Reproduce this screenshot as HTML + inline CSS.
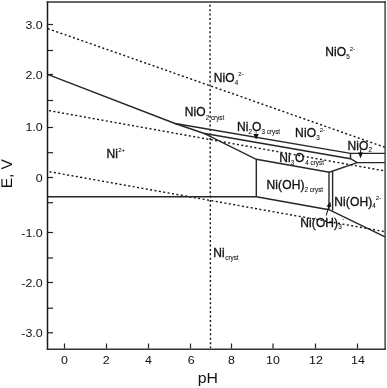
<!DOCTYPE html>
<html><head><meta charset="utf-8">
<style>
html,body{margin:0;padding:0;background:#fff;}
body{width:387px;height:388px;overflow:hidden;}
svg{display:block;filter:grayscale(1);}
text{font-family:"Liberation Sans",sans-serif;fill:#111;}
.lb{font-size:12px;stroke:#111;stroke-width:0.33px;letter-spacing:0.12px;}
.sm{font-size:6.3px;stroke-width:0.08px;letter-spacing:0;}
.sp{font-size:6px;}
.tk{font-size:11.6px;}
.ax{font-size:14.8px;}
</style></head>
<body>
<svg width="387" height="388" viewBox="0 0 387 388">
<!-- dotted lines -->
<g fill="none" stroke="#111" stroke-width="1.4" stroke-dasharray="2 2.44">
<line x1="47.86" y1="28.65" x2="385.00" y2="147.32"/>
<line x1="49.00" y1="110.62" x2="385.00" y2="170.97"/>
<line x1="49.60" y1="171.72" x2="385.00" y2="231.68"/>
<line x1="210.0" y1="4.7" x2="210.5" y2="348"/>
</g>
<!-- solid boundaries -->
<g fill="none" stroke="#262626" stroke-width="1.4" stroke-linejoin="miter">
<polyline points="47.5,74.3 175,123.5 350.5,153.4 385,153.4"/>
<polyline points="175,123.5 203.5,133.2 350.5,158.7 357.2,162.6 385,162.6"/>
<line x1="350.5" y1="153.4" x2="350.5" y2="158.7"/>
<polyline points="203.5,133.2 256.3,159.3 329.3,172.2 357.2,162.6"/>
<line x1="256.3" y1="159.3" x2="256.3" y2="196.8"/>
<polyline points="47.5,196.8 256.3,196.8 329,209.7 385,236.9"/>
<line x1="332.6" y1="171" x2="332.6" y2="210.5"/>
</g>
<line x1="329" y1="172.2" x2="329" y2="209.5" stroke="#1a1a1a" stroke-width="1.3"/>
<!-- arrows -->
<g fill="#111" stroke="#111">
<line x1="256.1" y1="131.2" x2="256.1" y2="135" stroke-width="0.6"/>
<polygon points="253.4,134.1 258.8,134.1 256.1,139.4" stroke="none"/>
<line x1="360.6" y1="149.5" x2="360.6" y2="154" stroke-width="1"/>
<polygon points="358.1,152.4 363,152.4 360.5,158.2" stroke="none"/>
<line x1="326.3" y1="215.5" x2="329.1" y2="205" stroke-width="1"/>
<polygon points="330.3,201.8 326.5,206.4 331.1,206.9" stroke="none"/>
</g>
<!-- frame -->
<g fill="none" stroke-linecap="square">
<line x1="47.5" y1="1.9" x2="47.5" y2="349.2" stroke="#1a1a1a" stroke-width="1.5"/>
<line x1="385.1" y1="1.9" x2="385.1" y2="349.2" stroke="#3a3a3a" stroke-width="1.4"/>
<line x1="47.5" y1="1.9" x2="385.1" y2="1.9" stroke="#333" stroke-width="1.5"/>
<line x1="47.5" y1="349.2" x2="385.1" y2="349.2" stroke="#333" stroke-width="1.5"/>
</g>
<!-- ticks -->
<g stroke="#222" stroke-width="1.2">
<line x1="48" y1="24.5" x2="53" y2="24.5"/>
<line x1="48" y1="50.5" x2="53" y2="50.5"/>
<line x1="48" y1="74.5" x2="53" y2="74.5"/>
<line x1="48" y1="100.5" x2="53" y2="100.5"/>
<line x1="48" y1="127.5" x2="53" y2="127.5"/>
<line x1="48" y1="152.7" x2="53" y2="152.7"/>
<line x1="48" y1="177.5" x2="53" y2="177.5"/>
<line x1="48" y1="202.7" x2="53" y2="202.7"/>
<line x1="48" y1="232.5" x2="53" y2="232.5"/>
<line x1="48" y1="258" x2="53" y2="258"/>
<line x1="48" y1="282.5" x2="53" y2="282.5"/>
<line x1="48" y1="308.2" x2="53" y2="308.2"/>
<line x1="48" y1="332.8" x2="53" y2="332.8"/>
<line x1="64.5" y1="343.5" x2="64.5" y2="348.5"/>
<line x1="106.5" y1="343.5" x2="106.5" y2="348.5"/>
<line x1="148.5" y1="343.5" x2="148.5" y2="348.5"/>
<line x1="190.5" y1="343.5" x2="190.5" y2="348.5"/>
<line x1="231.5" y1="343.5" x2="231.5" y2="348.5"/>
<line x1="273" y1="343.5" x2="273" y2="348.5"/>
<line x1="315.5" y1="343.5" x2="315.5" y2="348.5"/>
<line x1="357.5" y1="343.5" x2="357.5" y2="348.5"/>
</g>
<!-- tick labels -->
<text class="tk" text-anchor="end" transform="translate(42.7,28.8) scale(1.07,1)">3.0</text>
<text class="tk" text-anchor="end" transform="translate(42.7,79.1) scale(1.07,1)">2.0</text>
<text class="tk" text-anchor="end" transform="translate(42.7,131.4) scale(1.07,1)">1.0</text>
<text class="tk" text-anchor="end" transform="translate(42.7,182.1) scale(1.07,1)">0</text>
<text class="tk" text-anchor="end" transform="translate(42.7,237.3) scale(1.07,1)">-1.0</text>
<text class="tk" text-anchor="end" transform="translate(42.7,286.9) scale(1.07,1)">-2.0</text>
<text class="tk" text-anchor="end" transform="translate(42.7,337.1) scale(1.07,1)">-3.0</text>
<text class="tk" text-anchor="middle" transform="translate(64.5,363.6) scale(1.07,1)">0</text>
<text class="tk" text-anchor="middle" transform="translate(106.2,363.6) scale(1.07,1)">2</text>
<text class="tk" text-anchor="middle" transform="translate(148.5,363.6) scale(1.07,1)">4</text>
<text class="tk" text-anchor="middle" transform="translate(191.3,363.6) scale(1.07,1)">6</text>
<text class="tk" text-anchor="middle" transform="translate(231.5,363.6) scale(1.07,1)">8</text>
<text class="tk" text-anchor="middle" transform="translate(273,363.6) scale(1.07,1)">10</text>
<text class="tk" text-anchor="middle" transform="translate(316,363.6) scale(1.07,1)">12</text>
<text class="tk" text-anchor="middle" transform="translate(358,363.6) scale(1.07,1)">14</text>
<text class="ax" text-anchor="middle" transform="translate(207.8,382.9) scale(1.07,1)">pH</text>
<text class="ax" style="font-size:15.5px;text-rendering:geometricPrecision" text-anchor="middle" transform="translate(11.95,173.7) rotate(-90)">E, V</text>
<!-- region labels -->
<text class="lb" x="325.3" y="56.4">NiO<tspan class="sm" dy="2.6">5</tspan><tspan class="sm sp" dy="-8.2">2-</tspan></text>
<text class="lb" x="213.8" y="81.6">NiO<tspan class="sm" dy="3.2">4</tspan><tspan class="sm sp" dy="-8.8">2-</tspan></text>
<text class="lb" x="184.7" y="116.2">NiO<tspan class="sm" dy="3.3">2 cryst</tspan></text>
<text class="lb" x="237" y="130.8">Ni<tspan class="sm" dy="3.1">2</tspan><tspan dy="-3.1">O</tspan><tspan class="sm" dy="3.1">3 cryst</tspan></text>
<text class="lb" x="295.1" y="137.1">NiO<tspan class="sm" dy="2.7">3</tspan><tspan class="sm sp" dy="-8.3">2-</tspan></text>
<text class="lb" x="347.5" y="149.5">NiO<tspan class="sm" dy="2.6">2</tspan><tspan class="sm sp" dx="-2" dy="-8">-</tspan></text>
<text class="lb" x="279.2" y="162.2">Ni<tspan class="sm" dy="2.6">3</tspan><tspan dx="0.8" dy="-2.6">O</tspan><tspan class="sm" dx="0.8" dy="3.1">4 cryst</tspan></text>
<text class="lb" x="266.5" y="189.2">Ni(OH)<tspan class="sm" dy="2.8">2 cryst</tspan></text>
<text class="lb" x="334.3" y="205.7">Ni(OH)<tspan class="sm" dy="2.0">4</tspan><tspan class="sm sp" dy="-7.5">2-</tspan></text>
<text class="lb" x="300.2" y="227.1">Ni(OH)<tspan class="sm" dy="1.8">3</tspan><tspan class="sm sp" dx="0.4" dy="-7.7">-</tspan></text>
<text class="lb" x="106.4" y="158.2">Ni<tspan class="sm sp" dx="0.3" dy="-6.4">2+</tspan></text>
<text class="lb" x="213.2" y="256.7">Ni<tspan class="sm" dx="0.5" dy="3.7">cryst</tspan></text>
</svg>
</body></html>
